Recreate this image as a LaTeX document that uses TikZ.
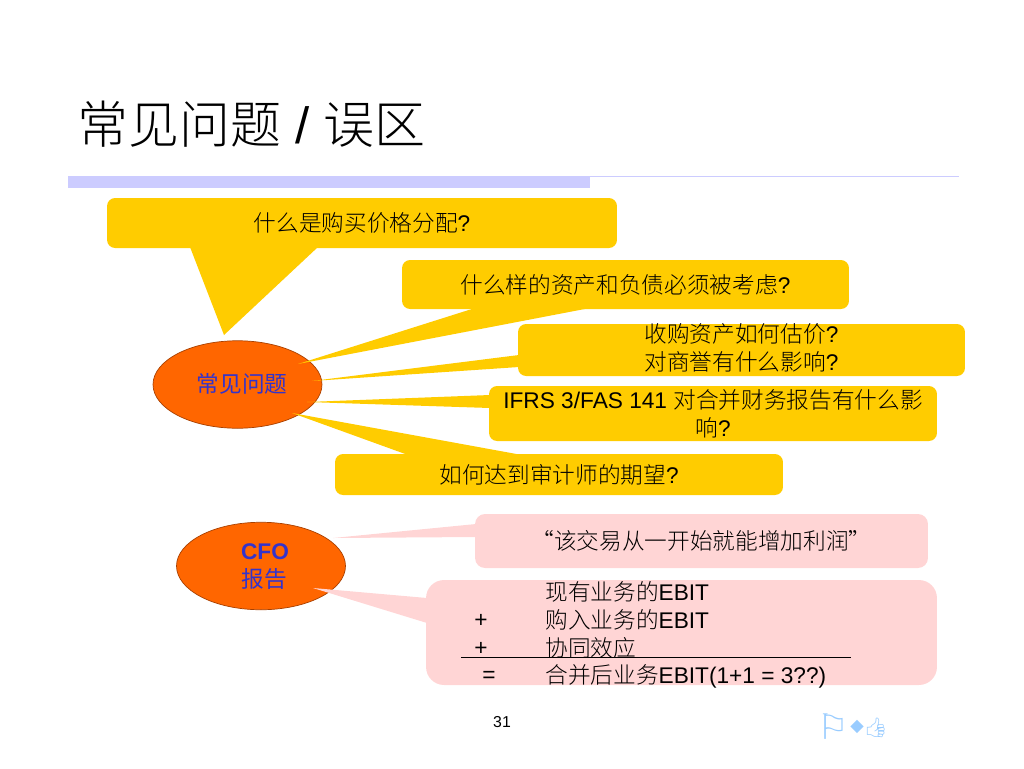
\documentclass[tikz,border=0pt]{standalone}
\usepackage{fontspec}
\setmainfont{Liberation Sans}
\newfontfamily\cjk{Noto Sans CJK SC Light}
\newfontfamily\cjkb{Noto Sans CJK SC}
\newfontfamily\dejavu{DejaVu Sans}
\newfontfamily\emoji{Noto Emoji}
\usetikzlibrary{shapes.geometric}
\definecolor{gold}{HTML}{FFCC00}
\definecolor{topicfill}{HTML}{FF6600}
\definecolor{topicline}{HTML}{A84000}
\definecolor{topictext}{HTML}{3333CC}
\definecolor{pinkbox}{HTML}{FFD5D5}
\definecolor{barcol}{HTML}{CCCCFF}
\definecolor{iconcol}{HTML}{99CCFF}
\tikzset{bodytext/.style={font=\fontsize{12.9}{16}\selectfont,text=black,align=center,inner sep=0pt}}
\tikzset{goldbox/.style={bodytext,fill=gold,rounded corners=0.16cm}}
\tikzset{pinkbubble/.style={bodytext,fill=pinkbox,rounded corners=0.2cm}}
\tikzset{topic/.style={ellipse,draw=topicline,line width=0.4pt,fill=topicfill,inner sep=0pt,minimum width=3.38cm,minimum height=1.75cm}}
\tikzset{topiclabel/.style={text=topictext,inner sep=0pt,font=\fontsize{12.9}{16}\selectfont}}
\tikzset{rowtext/.style={bodytext,anchor=west}}
\tikzset{icon/.style={inner sep=0pt,text=iconcol}}
\begin{document}
\begin{tikzpicture}[x=0.02cm,y=-0.02cm]
\useasboundingbox (0,0) rectangle (1024,768);

\node[inner sep=0pt,anchor=west,font=\fontsize{29}{30}\selectfont] (title) at (77,124) {{\cjk 常见问题} / {\cjk 误区}};
\fill[barcol] (68,176) rectangle (590,188);
\draw[barcol,line width=0.4pt] (590,176) -- (959,176);

\node[topic] (qtopic) at (237.5,384.5) {};
\node[topic] (cfotopic) at (261,566) {};
\node[goldbox,minimum width=10.2cm,minimum height=1cm] (qa) at (362,223) {{\cjk 什么是购买价格分配}?};
\node[goldbox,minimum width=8.94cm,minimum height=0.98cm] (qb) at (625.5,284.5) {{\cjk 什么样的资产和负债必须被考虑}?};
\node[goldbox,minimum width=8.94cm,minimum height=1.04cm] (qc) at (741.5,350) {};
\node[bodytext] (qctext) at (741.5,348) {{\cjk 收购资产如何估价}?\\{\cjk 对商誉有什么影响}?};
\node[goldbox,minimum width=8.96cm,minimum height=1.1cm] (qd) at (713,413.5) {IFRS 3/FAS 141 {\cjk 对合并财务报告有什么影}\\{\cjk 响}?};
\node[goldbox,minimum width=8.96cm,minimum height=0.82cm] (qe) at (559,474.5) {{\cjk 如何达到审计师的期望}?};
\node[pinkbubble,minimum width=9.06cm,minimum height=1.08cm] (ca) at (701.5,541) {{\cjk “该交易从一开始就能增加利润”}};
\node[pinkbubble,rounded corners=0.36cm,minimum width=10.22cm,minimum height=2.1cm] (cb) at (681.5,632.5) {};

% tails
\coordinate (tipa) at (224,335);
\coordinate (tipb) at (298,364);
\coordinate (tipc) at (312,381);
\coordinate (tipd) at (307,402);
\coordinate (tipe) at (292,413);
\coordinate (tipf) at (333,538);
\coordinate (tipg) at (313,588);
\fill[gold] (tipa) -- (190,247) -- (318,247) -- cycle;
\fill[gold] (tipb) -- (475,308) -- (590,308) -- cycle;
\fill[gold] (tipc) -- (519,355) -- (519,367) -- cycle;
\fill[gold] (tipd) -- (490,395) -- (490,408) -- cycle;
\fill[gold] (tipe) -- (408,455) -- (522,455) -- cycle;
\fill[pinkbox] (tipf) -- (476,524) -- (476,537) -- cycle;
\fill[pinkbox] (tipg) -- (427,598) -- (427,623) -- cycle;

\node[topiclabel] (qlabel) at (242,384) {{\cjkb 常见问题}};
\node[topiclabel] (cfolabel) at (265,552) {\textbf{CFO}};
\node[topiclabel] (baogao) at (264,579) {{\cjkb 报告}};

\node[rowtext] (rowa) at (545,592) {{\cjk 现有业务的}EBIT};
\node[rowtext] (rowb) at (545,620) {{\cjk 购入业务的}EBIT};
\node[rowtext] (rowc) at (545,648) {{\cjk 协同效应}};
\node[rowtext] (rowd) at (545,676) {{\cjk 合并后业务}EBIT(1+1 = 3??)};
\node[bodytext] (plusa) at (481,621) {+};
\node[bodytext] (plusb) at (481,649) {+};
\node[bodytext] (eq) at (489,677) {=};
\coordinate (rulea) at (461,657.5);
\coordinate (ruleb) at (851,657.5);
\draw[line width=0.5pt] (rulea) -- (ruleb);

\node[inner sep=0pt,font=\fontsize{9}{10}\selectfont] (pagenum) at (502,722) {31};
\node[icon,font=\fontsize{20}{22}\dejavu] (flag) at (833,727) {⚐};
\node[icon,font=\fontsize{10}{12}\dejavu] (dia) at (857,727) {◆};
\node[icon,font=\fontsize{11}{13}\emoji] (thumb) at (876,728) {👍};
\end{tikzpicture}
\end{document}
